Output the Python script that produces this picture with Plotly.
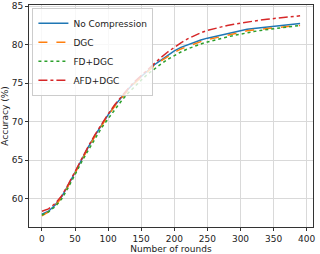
import plotly.graph_objects as go

rounds = list(range(0, 400, 10))

no_compression = [58.0, 58.4, 59.2, 60.3, 61.8, 63.5, 65.1, 66.7, 68.2, 69.6,
                  70.9, 72.1, 73.2, 74.2, 75.1, 75.9, 76.7, 77.4, 78.0, 78.6,
                  79.2, 79.65, 80.0, 80.3, 80.6, 80.85, 81.05, 81.25, 81.45, 81.65,
                  81.85, 82.0, 82.1, 82.2, 82.3, 82.4, 82.5, 82.6, 82.68, 82.75]
dgc = [57.8, 58.3, 59.1, 60.2, 61.7, 63.4, 65.0, 66.6, 68.1, 69.5,
       70.8, 72.0, 73.1, 74.1, 75.0, 75.8, 76.6, 77.3, 77.9, 78.5,
       79.0, 79.45, 79.8, 80.1, 80.4, 80.65, 80.85, 81.05, 81.25, 81.45,
       81.65, 81.8, 81.9, 82.0, 82.1, 82.2, 82.3, 82.38, 82.45, 82.5]
fd_dgc = [57.9, 58.3, 59.0, 60.0, 61.5, 63.2, 64.8, 66.3, 67.8, 69.2,
          70.4, 71.6, 72.7, 73.7, 74.6, 75.4, 76.2, 76.9, 77.5, 78.1,
          78.6, 79.05, 79.45, 79.8, 80.1, 80.35, 80.6, 80.8, 81.0, 81.2,
          81.4, 81.55, 81.7, 81.85, 81.95, 82.1, 82.2, 82.3, 82.4, 82.5]
afd_dgc = [58.4, 58.7, 59.4, 60.4, 61.9, 63.6, 65.2, 66.8, 68.3, 69.7,
           71.0, 72.2, 73.3, 74.3, 75.2, 76.0, 76.8, 77.6, 78.35, 79.05,
           79.7, 80.25, 80.75, 81.2, 81.55, 81.85, 82.1, 82.3, 82.5, 82.65,
           82.8, 82.95, 83.1, 83.2, 83.3, 83.4, 83.5, 83.6, 83.7, 83.75]

series = [
    ("No Compression", no_compression, "#1f77b4", "solid"),
    ("DGC", dgc, "#ff7f0e", "dash"),
    ("FD+DGC", fd_dgc, "#2ca02c", "dot"),
    ("AFD+DGC", afd_dgc, "#d62728", "dashdot"),
]

fig = go.Figure()
for name, ys, color, dash in series:
    fig.add_trace(go.Scatter(x=rounds, y=ys, mode="lines", name=name,
                             line=dict(color=color, width=1.5, dash=dash)))

axis_common = dict(showline=True, linecolor="#333", linewidth=1, mirror=True,
                   ticks="outside", ticklen=3, tickcolor="#333",
                   showgrid=True, gridcolor="#d9d9d9", gridwidth=1,
                   zeroline=False, automargin=False, ticklabeloverflow="allow",
                   tickfont=dict(size=9, color="#222"))

fig.update_layout(
    width=320, height=254,
    margin=dict(l=29, r=7, t=5, b=27),
    paper_bgcolor="white", plot_bgcolor="white",
    font=dict(family="DejaVu Sans", size=9, color="#222"),
    xaxis=dict(range=[-19.5, 409.5], tickvals=[0, 50, 100, 150, 200, 250, 300, 350, 400],
               title=dict(text="Number of rounds", font=dict(size=9), standoff=1),
               **axis_common),
    yaxis=dict(range=[56.35, 85.15], tickvals=[60, 65, 70, 75, 80, 85],
               title=dict(text="Accuracy (%)", font=dict(size=9), standoff=2),
               **axis_common),
    legend=dict(x=0.012, y=0.988, xanchor="left", yanchor="top",
                bgcolor="rgba(255,255,255,0.8)", bordercolor="#ccc", borderwidth=1,
                font=dict(size=9), itemwidth=30, tracegroupgap=0),
)

fig.write_html("out.html", config={"displayModeBar": False},
               post_script="document.body.style.margin='0';document.body.style.padding='0';")
